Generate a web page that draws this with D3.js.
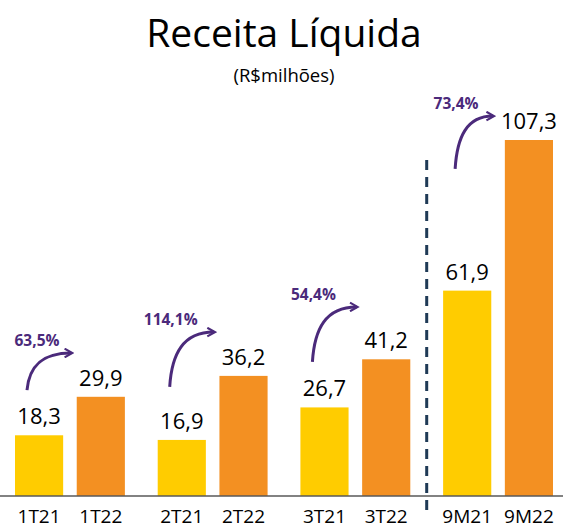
<!DOCTYPE html>
<html>
<head>
<meta charset="utf-8">
<script src="https://cdn.jsdelivr.net/npm/d3@7"></script>
<style>
  body { margin: 0; background: #fff; }
  svg { display: block; font-family: "Open Sans", sans-serif; }
</style>
</head>
<body>
<svg id="chart" width="563" height="529"></svg>
<script>
// data
var groups = ["1T", "2T", "3T", "9M"];
var years = ["21", "22"];
var values21 = [18.3, 16.9, 26.7, 61.9];
var values22 = [29.9, 36.2, 41.2, 107.3];
var growthLabels = ["63,5%", "114,1%", "54,4%", "73,4%"];
// arrow start / end levels (in R$ milhões units)
var arrowFrom = [31.9, 32.9, 40.4, 98.6];
var arrowTo = [43.1, 49.4, 57.0, 114.5];

var svg = d3.select("#chart"),
    width = 563,
    baseY = 496,
    colors = { "21": "#ffcc00", "22": "#f39022" },
    purple = "#4b2a7b";

var x0 = d3.scaleBand().domain(groups).range([15, 553]).paddingInner(0.23).paddingOuter(0);
var x1 = d3.scaleBand().domain(years).range([0, x0.bandwidth()]).paddingInner(0.22);
var y = d3.scaleLinear().domain([0, 107.3]).range([baseY, 140]);

var data = groups.map(function(g, i) {
    return { group: g, i: i, vals: [{ yr: "21", v: values21[i] }, { yr: "22", v: values22[i] }] };
});

// title
svg.append("text")
    .attr("x", 284).attr("y", 47)
    .attr("text-anchor", "middle")
    .style("font-size", "39px")
    .text("Receita Líquida");
svg.append("text")
    .attr("x", 284).attr("y", 82)
    .attr("text-anchor", "middle")
    .style("font-size", "18.5px")
    .text("(R$milhões)");

var g = svg.selectAll("g.grp")
    .data(data)
    .enter()
    .append("g")
    .attr("class", "grp")
    .attr("transform", function(d) { return "translate(" + x0(d.group) + ",0)"; });

var bar = g.selectAll("g.bar")
    .data(function(d) { return d.vals.map(function(o) { return { group: d.group, yr: o.yr, v: o.v }; }); })
    .enter()
    .append("g")
    .attr("class", "bar");

bar.append("rect")
    .attr("x", function(d) { return x1(d.yr); })
    .attr("y", function(d) { return y(d.v); })
    .attr("width", x1.bandwidth())
    .attr("height", function(d) { return baseY - y(d.v); })
    .attr("fill", function(d) { return colors[d.yr]; });

bar.append("text")
    .attr("class", "value")
    .attr("x", function(d) { return x1(d.yr) + x1.bandwidth() / 2; })
    .attr("y", function(d) { return y(d.v) - 11; })
    .attr("text-anchor", "middle")
    .style("font-size", "22px")
    .text(function(d) { return d3.format(".1f")(d.v).replace(".", ","); });

bar.append("text")
    .attr("x", function(d) { return x1(d.yr) + x1.bandwidth() / 2; })
    .attr("y", 523)
    .attr("text-anchor", "middle")
    .style("font-size", "19px")
    .text(function(d) { return d.group + d.yr; });

// axis line
svg.append("line")
    .attr("x1", 0).attr("x2", width)
    .attr("y1", baseY).attr("y2", baseY)
    .attr("stroke", "#595959")
    .attr("stroke-width", 1.5);

// dashed separator between quarters and 9M
var sepX = (x0("3T") + x0.bandwidth() + x0("9M")) / 2;
svg.append("line")
    .attr("x1", sepX).attr("x2", sepX)
    .attr("y1", 160).attr("y2", 513)
    .attr("stroke", "#1f3a56")
    .attr("stroke-width", 3)
    .attr("stroke-dasharray", "10,7");

// growth arrows
svg.append("defs").append("marker")
    .attr("id", "head")
    .attr("viewBox", "0 0 10 10")
    .attr("refX", 7).attr("refY", 5)
    .attr("markerWidth", 3.6).attr("markerHeight", 3.6)
    .attr("orient", "auto")
    .append("path")
    .attr("d", "M1,1 L8,5 L1,9")
    .attr("fill", "none")
    .attr("stroke", purple)
    .attr("stroke-width", 2);

var valueW = {};
bar.selectAll("text.value").each(function(d) { valueW[d.group + d.yr] = this.getBBox().width; });

data.forEach(function(d, i) {
    var sx = x0(d.group) + x1("21") + 12,
        sy = y(arrowFrom[i]),
        lblLeft = x0(d.group) + x1("22") + x1.bandwidth() / 2 - valueW[d.group + "22"] / 2,
        ex = Math.min(x0(d.group) + x1("22") + 10, lblLeft - 8),
        ey = y(arrowTo[i]);
    var path = d3.path();
    path.moveTo(sx, sy);
    path.bezierCurveTo(sx + 2, sy - (sy - ey) * 0.6, sx + (ex - sx) * 0.3, ey, ex, ey);
    svg.append("path")
        .attr("d", path.toString())
        .attr("fill", "none")
        .attr("stroke", purple)
        .attr("stroke-width", 3)
        .attr("marker-end", "url(#head)");
    svg.append("text")
        .attr("x", sx + (i == 0 ? 10 : 1))
        .attr("y", ey - 7)
        .attr("text-anchor", "middle")
        .attr("fill", purple)
        .style("font-size", "15.5px")
        .style("font-weight", "bold")
        .text(growthLabels[i]);
});
</script>
</body>
</html>
